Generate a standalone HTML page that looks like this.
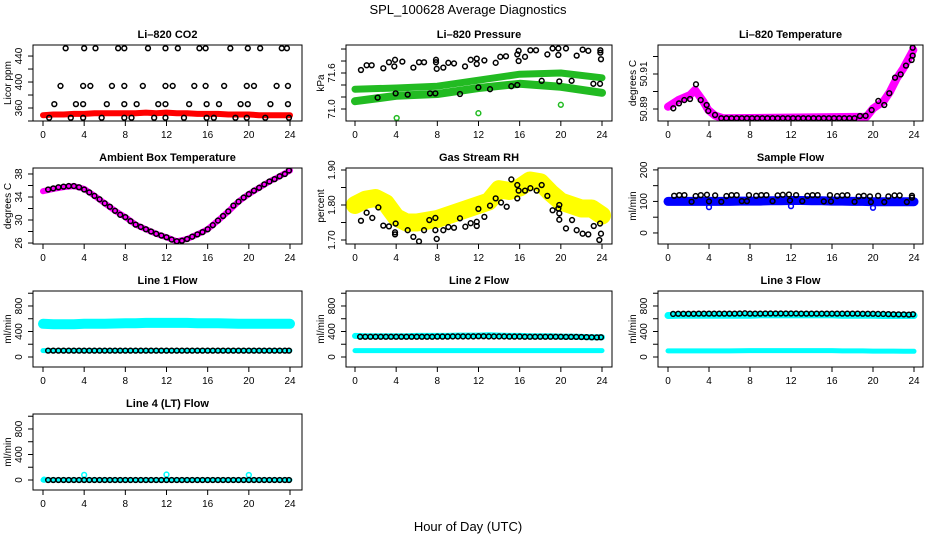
<!DOCTYPE html>
<html><head><meta charset="utf-8">
<style>
html,body{margin:0;padding:0;background:#fff;}
svg{display:block;font-family:"Liberation Sans",Arial,sans-serif;}
</style></head>
<body>
<svg id="chart" width="936" height="540" viewBox="0 0 936 540" xmlns="http://www.w3.org/2000/svg">
<text x="468" y="14" text-anchor="middle" font-size="13">SPL_100628  Average Diagnostics</text>
<text x="468" y="531" text-anchor="middle" font-size="13">Hour of Day (UTC)</text>
</svg>
<script>
// ---------- data ----------
const bandHours=[0,1,2,3,4,5,6,7,8,9,10,11,12,13,14,15,16,17,18,19,20,21,22,23,24];
const xTicks=[0,4,8,12,16,20,24];

// CO2
const co2Band=[349,350,350,351,351,352,352,352,352,352,353,352,353,352,352,351,351,351,350,350,350,349,349,349,349];
const co2Hours=[2.2,4.0,5.1,7.3,7.9,10.2,11.9,13.1,15.2,15.8,18.2,19.9,21.1,23.2,23.7,
1.7,3.9,4.6,6.7,7.9,9.7,11.9,12.6,14.7,15.8,17.6,19.8,20.5,22.7,23.8,
1.1,3.2,3.9,6.2,7.9,9.1,11.2,11.9,14.2,15.9,17.1,19.2,19.9,22.1,23.8,
0.6,2.7,3.9,5.7,7.9,8.6,10.8,11.9,13.7,15.9,16.6,18.7,19.8,21.6,23.9];
const co2Vals=[452,452,452,452,452,452,452,452,452,452,452,452,452,452,452,
394,394,394,394,394,394,394,394,394,394,394,394,394,394,394,
366,366,366,366,366,366,366,366,366,366,366,366,366,366,366,
345,345,345,345,345,345,345,345,345,345,345,345,345,345,345];

// Pressure
const presBandHours=[0,4,8,12,16,20,24];
const presUpperBand=[71.33,71.35,71.38,71.48,71.58,71.6,71.52];
const presLowerBand=[71.13,71.22,71.25,71.35,71.42,71.37,71.27];
const presHours=[0.58,1.13,1.62,2.75,3.3,3.89,3.82,4.6,5.67,6.22,6.71,7.87,7.87,7.94,8.58,9.07,9.62,10.69,11.24,11.83,11.83,12.57,13.67,14.12,14.67,15.77,15.9,15.9,16.52,17.04,17.59,18.69,19.2,19.76,19.76,20.5,21.54,22.12,22.67,23.84,23.84,23.9,
2.2,3.95,5.12,7.29,7.81,10.2,11.99,13.12,15.19,15.77,18.14,19.85,21.05,23.16,23.81];
const presVals=[71.65,71.73,71.73,71.68,71.78,71.82,71.71,71.79,71.69,71.78,71.78,71.82,71.78,71.67,71.69,71.77,71.76,71.71,71.82,71.84,71.75,71.81,71.77,71.87,71.88,71.91,71.97,71.8,71.87,71.98,71.98,71.91,72.01,72.01,71.9,72.01,71.89,71.99,71.97,71.98,71.94,71.83,
71.19,71.26,71.24,71.26,71.26,71.25,71.36,71.33,71.38,71.4,71.47,71.46,71.47,71.42,71.42];
const presOutHours=[4.05,11.99,20.0];
const presOutVals=[70.85,70.93,71.07];

// Li-820 temperature
const tempBandHours=[0,1.0,2.15,2.63,3.45,3.93,4.59,5.4,19.38,20.03,21.0,21.66,22.31,22.96,23.93];
const tempBand=[50.8913,50.8951,50.898,50.9009,50.8942,50.8894,50.8862,50.8847,50.8856,50.8904,50.8942,50.8999,50.9075,50.9132,50.9237];
const tempHours=[0.52,1.07,1.59,2.15,2.73,3.19,3.77,3.93,4.59,5.2,5.7,6.2,6.7,7.2,7.7,8.2,8.7,9.2,9.7,10.2,10.7,11.2,11.7,12.2,12.7,13.2,13.7,14.2,14.7,15.2,15.7,16.2,16.7,17.2,17.7,18.2,18.73,19.28,19.87,20.52,21.1,21.59,22.15,22.7,23.22,23.77,23.87,23.87];
const tempVals=[50.8904,50.8932,50.8951,50.8957,50.9041,50.8951,50.8923,50.8889,50.8866,50.8847,50.8847,50.8847,50.8847,50.8847,50.8847,50.8847,50.8847,50.8847,50.8847,50.8847,50.8847,50.8847,50.8847,50.8847,50.8847,50.8847,50.8847,50.8847,50.8847,50.8847,50.8847,50.8847,50.8847,50.8847,50.8847,50.8847,50.886,50.8861,50.8894,50.8946,50.8923,50.899,50.9079,50.9098,50.9148,50.918,50.9205,50.925];

// Ambient box temperature
const ambBand=[35.0,35.4,35.7,35.9,35.4,34.2,32.9,31.6,30.5,29.2,28.4,27.6,27.0,26.3,26.7,27.5,28.4,29.9,31.5,33.2,34.5,35.6,36.7,37.6,38.6];
const ambHours=[0.5,1,1.5,2,2.5,3,3.5,4,4.5,5,5.5,6,6.5,7,7.5,8,8.5,9,9.5,10,10.5,11,11.5,12,12.5,13,13.5,14,14.5,15,15.5,16,16.5,17,17.5,18,18.5,19,19.5,20,20.5,21,21.5,22,22.5,23,23.5,23.9];
const ambVals=[35.3,35.5,35.7,35.8,35.9,35.9,35.7,35.3,34.8,34.2,33.6,32.9,32.3,31.6,30.9,30.5,29.8,29.2,28.8,28.4,28.0,27.6,27.3,27.0,26.6,26.3,26.4,26.7,27.1,27.5,27.9,28.4,29.1,29.9,30.7,31.5,32.5,33.2,33.9,34.5,35.1,35.6,36.2,36.7,37.1,37.6,38.0,38.6];

// Gas stream RH
const rhBand=[1.80,1.815,1.82,1.805,1.765,1.75,1.75,1.755,1.76,1.77,1.78,1.79,1.80,1.81,1.845,1.84,1.85,1.87,1.865,1.835,1.81,1.80,1.79,1.79,1.77];
const rhHours=[0.58,1.13,1.68,2.27,2.75,3.3,3.95,3.89,3.89,5.12,5.67,6.22,6.71,7.22,7.81,7.81,7.94,8.58,9.07,9.62,10.2,10.72,11.24,11.83,11.83,11.99,12.57,13.12,13.67,14.19,14.74,15.19,15.77,15.77,15.9,16.52,17.04,17.65,18.14,18.69,19.2,19.76,19.85,19.85,19.85,20.5,21.09,21.54,22.12,22.67,23.2,23.81,23.9,23.74];
const rhVals=[1.755,1.778,1.763,1.793,1.741,1.739,1.747,1.722,1.716,1.728,1.709,1.696,1.728,1.757,1.763,1.728,1.703,1.728,1.737,1.735,1.762,1.738,1.748,1.752,1.74,1.789,1.766,1.798,1.819,1.807,1.795,1.873,1.857,1.819,1.841,1.841,1.848,1.841,1.857,1.826,1.785,1.79,1.776,1.758,1.80,1.733,1.757,1.728,1.718,1.716,1.74,1.747,1.718,1.70];

// Sample flow
const sampBand=[100,100,100,100,100,100,100,101,101,101,102,102,103,103,102,102,101,101,100,100,99,99,99,99,99];
const sampHours=[0.6,1.1,1.6,2.7,3.2,3.8,4.6,5.7,6.2,6.7,7.9,8.6,9.1,9.6,10.7,11.2,11.8,12.5,13.6,14.1,14.6,15.8,16.5,17.0,17.5,18.6,19.1,19.7,20.5,21.5,22.1,22.6,23.8,
2.3,4.0,5.2,7.2,7.7,10.2,11.9,13.1,15.2,15.9,18.2,19.8,21.1,23.3,23.8];
const sampVals=[118,120,120,117,120,121,119,117,120,120,120,118,120,120,119,121,122,120,118,120,120,120,117,119,120,116,118,116,118,116,119,119,118,
99,100,99,101,101,101,103,101,100,100,99,98,98,98,112];
const sampOutHours=[4.0,12.0,20.0];
const sampOutVals=[82,85,80];

// Flow lines (half-hour black points)
const halfHours=[0.5,1,1.5,2,2.5,3,3.5,4,4.5,5,5.5,6,6.5,7,7.5,8,8.5,9,9.5,10,10.5,11,11.5,12,12.5,13,13.5,14,14.5,15,15.5,16,16.5,17,17.5,18,18.5,19,19.5,20,20.5,21,21.5,22,22.5,23,23.5,23.9];
const line1HighBand=[520,515,515,515,520,520,520,525,530,530,535,535,535,535,535,530,530,530,525,520,520,520,520,520,520];
const line1LowBand=[100,100,100,100,100,100,100,100,100,100,100,100,100,100,100,100,100,100,100,100,100,100,100,100,100];
const line1Vals=[100,100,100,100,100,100,100,100,100,100,100,100,100,100,100,100,100,100,100,100,100,100,100,100,100,100,100,100,100,100,100,100,100,100,100,100,100,100,100,100,100,100,100,100,100,100,100,100];
const line2HighBand=[330,325,325,325,325,325,330,330,330,330,335,335,335,340,335,330,330,325,325,325,320,320,315,310,310];
const line2LowBand=[100,100,100,100,100,100,100,100,100,100,100,100,100,100,100,100,100,100,100,100,100,100,100,100,100];
const line2Vals=[318,318,318,318,318,318,318,318,318,318,318,318,318,318,318,320,320,320,322,322,322,322,322,325,325,322,322,322,322,320,320,320,318,318,318,318,318,318,318,318,316,316,315,313,312,310,308,310];
const line3HighBand=[650,655,655,655,655,655,655,655,655,660,660,660,660,660,660,660,660,655,655,655,655,650,650,650,650];
const line3LowBand=[95,95,95,95,95,95,95,98,100,100,100,100,100,100,100,100,100,95,95,95,92,92,92,90,90];
const line3Vals=[675,678,678,678,678,680,680,680,680,680,680,680,680,682,685,680,680,680,682,682,682,682,682,682,682,680,680,680,680,680,680,680,680,680,680,680,680,678,678,678,675,675,672,670,668,668,665,670];
const line4Band=[0,0,0,0,0,0,0,0,0,0,0,0,0,0,0,0,0,0,0,0,0,0,0,0,0];
const line4Vals=[0,0,0,0,0,0,0,0,0,0,0,0,0,0,0,0,0,0,0,0,0,0,0,0,0,0,0,0,0,0,0,0,0,0,0,0,0,0,0,0,0,0,0,0,0,0,0,0];
const line4OutHours=[0.1,4.0,12.0,20.0];
const line4OutVals=[5,80,85,78];

// ---------- layout ----------
const NS='http://www.w3.org/2000/svg';
const svg=document.getElementById('chart');
const COLS=[{L:33,R:302,x0:43,x24:290},{L:346,R:612,x0:355,x24:602},{L:658,R:923,x0:668,x24:914}];
const ROWS=[45,168,291,414];
const PH=76;

function mk(tag,attrs,parent){const e=document.createElementNS(NS,tag);for(const k in attrs)e.setAttribute(k,attrs[k]);(parent||svg).appendChild(e);return e;}

function makePanel(name,title,col,row,ymin,ymax,yTicks,yLabels,ylab){
  const c=COLS[col],top=ROWS[row],bot=top+PH;
  const g=mk('g',{});
  
  
  const p={g:g,c:c,top:top,bot:bot,
    sx:h=>c.x0+(c.x24-c.x0)*h/24,
    sy:v=>bot-(v-ymin)/(ymax-ymin)*PH};
  const t=mk('text',{x:(c.L+c.R)/2,y:top-7,'text-anchor':'middle','font-size':'11','font-weight':'bold'},g);
  t.textContent=title;
  
  
  xTicks.forEach(h=>{
    const x=p.sx(h);
    mk('line',{x1:x,x2:x,y1:bot,y2:bot+5,stroke:'#000','stroke-width':1},g);
    const tl=mk('text',{x:x,y:bot+17,'text-anchor':'middle','font-size':'10'},g);
    tl.textContent=h;
    
    
  });
  yTicks.forEach(v=>{
    const y=p.sy(v);
    if(y<top-0.5||y>bot+0.5)return;
    mk('line',{x1:c.L-5,x2:c.L,y1:y,y2:y,stroke:'#000','stroke-width':1},g);
  });
  yLabels.forEach(v=>{
    const y=p.sy(v);
    const tl=mk('text',{x:0,y:0,'text-anchor':'middle','font-size':'10',transform:`translate(${c.L-11},${y}) rotate(-90)`},g);
    tl.textContent=v;
    
    
  });
  const yl=mk('text',{x:0,y:0,'text-anchor':'middle','font-size':'10',transform:`translate(${c.L-22},${(top+bot)/2}) rotate(-90)`},g);
  yl.textContent=ylab;
  
  
  p.data=mk('g',{},g);
  const cp=mk('clipPath',{id:'clip-'+name},g);
  mk('rect',{x:c.L,y:top,width:c.R-c.L,height:PH},cp);
  p.data.setAttribute('clip-path','url(#clip-'+name+')');
  const box=mk('rect',{x:c.L,y:top,width:c.R-c.L,height:PH,fill:'none',stroke:'#000','stroke-width':1},g);
  
  
  return p;
}
function band(p,hours,vals,color,w,name){
  const pts=hours.map((h,i)=>p.sx(h).toFixed(1)+','+p.sy(vals[i]).toFixed(1)).join(' ');
  const l=mk('polyline',{points:pts,fill:'none',stroke:color,'stroke-width':w,'stroke-linejoin':'round','stroke-linecap':'round'},p.data);
  
  
}
function points(p,hours,vals,color,name){
  const g=mk('g',{},p.data);
  
  
  hours.forEach((h,i)=>{
    const c=mk('circle',{cx:p.sx(h),cy:p.sy(vals[i]),r:2.4,fill:'none',stroke:color,'stroke-width':1.5},g);
    
    
  });
}

let p;
p=makePanel('co2','Li\u2013820 CO2',0,0,340,457,[340,360,380,400,420,440],[360,400,440],'Licor ppm');
band(p,bandHours,co2Band,'#ff0000',6,'co2-band');
points(p,co2Hours,co2Vals,'#000','co2-points');

p=makePanel('pressure','Li\u2013820 Pressure',1,0,70.8,72.067,[71.0,71.2,71.4,71.6,71.8,72.0],['71.0','71.6'],'kPa');
band(p,presBandHours,presUpperBand,'#22bb22',7,'pressure-upper-band');
band(p,presBandHours,presLowerBand,'#22bb22',8,'pressure-lower-band');
points(p,presHours,presVals,'#000','pressure-points');
points(p,presOutHours,presOutVals,'#22bb22','pressure-outliers');

p=makePanel('licor-temp','Li\u2013820 Temperature',2,0,50.88314,50.92657,[50.89,50.90,50.91,50.92],['50.89','50.91'],'degrees C');
band(p,tempBandHours,tempBand,'#ff00ff',8,'temperature-band');
points(p,tempHours,tempVals,'#000','temperature-points');

p=makePanel('ambient','Ambient Box Temperature',0,1,25.83,39.04,[26,28,30,32,34,36,38],[26,30,34,38],'degrees C');
band(p,bandHours,ambBand,'#ff00ff',6,'ambient-band');
points(p,ambHours,ambVals,'#000','ambient-points');

p=makePanel('rh','Gas Stream RH',1,1,1.6886,1.9057,[1.70,1.75,1.80,1.85,1.90],['1.70','1.80','1.90'],'percent');
band(p,bandHours,rhBand,'#ffff00',18,'rh-band');
points(p,rhHours,rhVals,'#000','rh-points');

p=makePanel('sample-flow','Sample Flow',2,1,-35,206,[0,50,100,150,200],[0,100,200],'ml/min');
band(p,bandHours,sampBand,'#0000ff',9,'sample-band');
points(p,sampOutHours,sampOutVals,'#0000ff','sample-outliers');
points(p,sampHours,sampVals,'#000','sample-points');

const flowTicks=[0,200,400,600,800,1000],flowLabels=[0,400,800];
p=makePanel('line1','Line 1 Flow',0,2,-157,1035,flowTicks,flowLabels,'ml/min');
band(p,bandHours,line1HighBand,'#00ffff',10,'line1-high-band');
band(p,bandHours,line1LowBand,'#00ffff',5,'line1-low-band');
points(p,halfHours,line1Vals,'#000','line1-points');

p=makePanel('line2','Line 2 Flow',1,2,-157,1035,flowTicks,flowLabels,'ml/min');
band(p,bandHours,line2HighBand,'#00ffff',6,'line2-high-band');
band(p,bandHours,line2LowBand,'#00ffff',5,'line2-low-band');
points(p,halfHours,line2Vals,'#000','line2-points');

p=makePanel('line3','Line 3 Flow',2,2,-157,1035,flowTicks,flowLabels,'ml/min');
band(p,bandHours,line3HighBand,'#00ffff',7,'line3-high-band');
band(p,bandHours,line3LowBand,'#00ffff',5,'line3-low-band');
points(p,halfHours,line3Vals,'#000','line3-points');

p=makePanel('line4','Line 4 (LT) Flow',0,3,-157,1035,flowTicks,flowLabels,'ml/min');
band(p,bandHours,line4Band,'#00ffff',5,'line4-band');
points(p,line4OutHours,line4OutVals,'#00ffff','line4-outliers');
points(p,halfHours,line4Vals,'#000','line4-points');
</script>
</body></html>
